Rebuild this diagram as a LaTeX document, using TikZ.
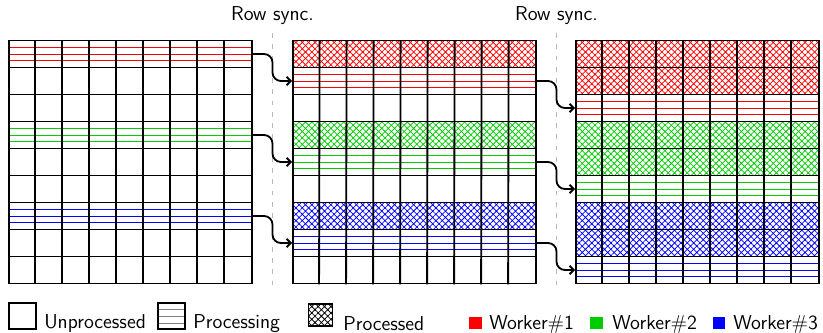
\documentclass[tikz,border=0pt]{standalone}
\usepackage{amsmath}
\usetikzlibrary{patterns.meta,arrows.meta}
\definecolor{wone}{RGB}{255,0,0}
\definecolor{wtwo}{RGB}{0,204,0}
\definecolor{wthree}{RGB}{0,0,255}
\tikzset{
		% Row styles: unprocessed, processing (lines) and processed (hatch)
		grid row/.style={draw,line width=1.3pt,minimum width=6.075cm,minimum height=0.675cm,inner sep=0pt},
		un/.style={},
		pr/.style={path picture={
				\foreach \f in {1,2,3}
				\draw[#1,line width=0.7pt] ([yshift=-\f*0.25*0.675cm]path picture bounding box.north west) -- ([yshift=-\f*0.25*0.675cm]path picture bounding box.north east);
			}},
		dn/.style={pattern={Hatch[angle=45,distance=3.2pt,line width=0.55pt]},pattern color=#1},
		pr1/.style={pr=wone}, pr2/.style={pr=wtwo}, pr3/.style={pr=wthree},
		dn1/.style={dn=wone}, dn2/.style={dn=wtwo}, dn3/.style={dn=wthree},
		sync line/.style={draw=gray!55,line width=1pt,dash pattern=on 3.5pt off 4.5pt},
		flow/.style={draw,line width=1.3pt,rounded corners=6pt,-{Straight Barb[length=3pt,width=6pt]}},
		txt/.style={inner sep=0pt,font=\fontsize{14.3}{17}\selectfont\sffamily}
	}

\begin{document}
\begin{tikzpicture}
		[x=0.025cm,y=-0.025cm,
			legend box/.style={draw,line width=0.8pt,minimum width=0.675cm,minimum height=0.65cm,inner sep=0pt},
			worker box/.style={fill=#1,minimum size=0.32cm,inner sep=0pt}
		]
		\useasboundingbox (0,0) rectangle (823,332);
		% the three grids, one node per row
		\foreach \g/\gx/\states in {1/130.5/{pr1,un,un,pr2,un,un,pr3,un,un},
				2/414.5/{dn1,pr1,un,dn2,pr2,un,dn3,pr3,un},
				3/697.5/{dn1,dn1,pr1,dn2,dn2,pr2,dn3,dn3,pr3}}
		{
			\foreach \s [count=\r] in \states
			\node[grid row,\s] (g\g-\r) at (\gx,27+27*\r) {};
			\foreach \c in {1,...,8}
			\draw[line width=1.3pt] ([xshift=\c*0.675cm]g\g-1.north west) -- ([xshift=\c*0.675cm]g\g-9.south west);
		}
		% row sync
		\node[txt,anchor=base] (sync1) at (272.5,20) {Row sync.};
		\node[txt,anchor=base] (sync2) at (556.5,20) {Row sync.};
		\coordinate (s1) at (272.5,0);
		\coordinate (s2) at (556.5,0);
		\draw[sync line] (272.5,33) -- (272.5,286);
		\draw[sync line] (556.5,33) -- (556.5,286);
		\foreach \a/\b in {1/2,4/5,7/8}
		\draw[flow] (g1-\a.east) -| (s1 |- g2-\b.west) -- (g2-\b.west);
		\foreach \a/\b in {2/3,5/6,8/9}
		\draw[flow] (g2-\a.east) -| (s2 |- g3-\b.west) -- (g3-\b.west);
		% legend
		\node[legend box] (lun) at (22.5,316) {};
		\node[txt,anchor=base west] (lunt) at (44,328) {Unprocessed};
		\node[legend box,pr=gray] (lpr) at (171.5,316) {};
		\node[txt,anchor=base west] (lprt) at (193,328) {Processing};
		\node[legend box,minimum height=0.55cm,minimum width=0.62cm,pattern={Hatch[angle=45,distance=3.2pt,line width=0.55pt]}] (ldn) at (320.5,315) {};
		\node[txt,anchor=base west] (ldnt) at (343,330) {Processed};
		\node[worker box=wone] (lw1) at (475.5,323) {};
		\node[txt,anchor=base west] (lw1t) at (489,329) {Worker$\#$1};
		\node[worker box=wtwo] (lw2) at (596.5,323) {};
		\node[txt,anchor=base west] (lw2t) at (612,329) {Worker$\#$2};
		\node[worker box=wthree] (lw3) at (719,323) {};
		\node[txt,anchor=base west] (lw3t) at (733,329) {Worker$\#$3};
	\end{tikzpicture}
\end{document}
